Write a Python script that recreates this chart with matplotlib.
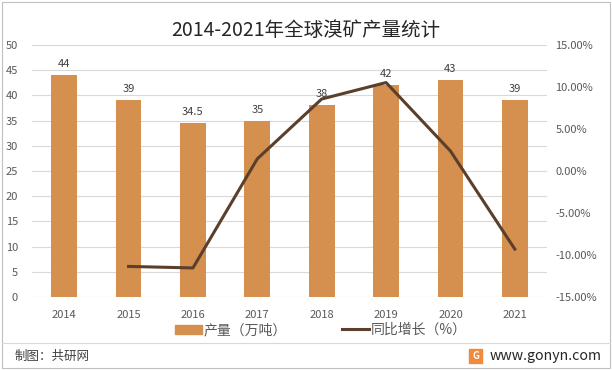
import matplotlib.pyplot as plt
import numpy as np
from matplotlib.patches import Rectangle
from matplotlib.lines import Line2D

plt.rcParams['font.family'] = ['Noto Sans CJK SC', 'DejaVu Sans']

years = ['2014', '2015', '2016', '2017', '2018', '2019', '2020', '2021']
output = [44, 39, 34.5, 35, 38, 42, 43, 39]
growth_years = ['2015', '2016', '2017', '2018', '2019', '2020', '2021']
growth = [-11.36, -11.54, 1.45, 8.57, 10.53, 2.38, -9.30]
bar_labels = ['44', '39', '34.5', '35', '38', '42', '43', '39']

bar_color = '#D58F4F'
line_color = '#5B3F2B'
txt = '#595959'

fig = plt.figure(figsize=(6.12, 3.70), dpi=100)
ax = fig.add_axes([32/612, 1-297/370, 515/612, 252/370])

x = np.arange(len(years))
ax.bar(x, output, width=0.4, color=bar_color, zorder=2)
for xi, v, lab in zip(x, output, bar_labels):
    ax.text(xi, v + 1.2, lab, ha='center', va='bottom', fontsize=8, color='#404040')

ax.set_ylim(0, 50)
ax.set_yticks(np.arange(0, 51, 5))
ax.set_xlim(-0.5, len(years) - 0.5)
ax.set_xticks(x)
ax.set_xticklabels(years)
ax.grid(axis='y', color='#D9D9D9', linewidth=0.8, zorder=0)
for s in ax.spines.values():
    s.set_visible(False)
ax.tick_params(length=0, labelsize=8, colors=txt)
ax.tick_params(axis='y', pad=10)
ax.tick_params(axis='x', pad=9)

ax2 = ax.twinx()
gx = [years.index(y) for y in growth_years]
ax2.plot(gx, growth, color=line_color, linewidth=2.2, zorder=3)
ax2.set_ylim(-15, 15)
ax2.set_yticks(np.arange(-15, 16, 5))
ax2.set_yticklabels(['%.2f%%' % v for v in np.arange(-15, 16, 5)])
for s in ax2.spines.values():
    s.set_visible(False)
ax2.tick_params(length=0, labelsize=8, colors=txt, pad=6)

fig.text(0.5, 1-30/370, '2014-2021年全球溴矿产量统计', ha='center', va='center',
         fontsize=14, color='#262626')

handles = [Rectangle((0, 0), 1, 1, color=bar_color),
           Line2D([0], [0], color=line_color, linewidth=2.2)]
fig.legend(handles, ['产量（万吨）', '同比增长（%）'], loc='center',
           bbox_to_anchor=(321/612, 1-330/370), ncol=2, frameon=False,
           fontsize=10, handlelength=1.9, handleheight=0.6, handletextpad=0.15,
           columnspacing=4.0, labelcolor=txt)

# frame and footer
fig.add_artist(Rectangle((2/612, 2/370), 608/612, 366/370, transform=fig.transFigure,
                         fill=False, edgecolor='#BFBFBF', linewidth=0.8))
fig.add_artist(Line2D([2/612, 610/612], [1-343/370, 1-343/370], transform=fig.transFigure,
                      color='#D9D9D9', linewidth=0.8))
fig.text(15/612, 1-356/370, '制图：共研网', ha='left', va='center', fontsize=9, color='#404040')
fig.add_artist(Rectangle((469/612, 1-363/370), 13/612, 14/370, transform=fig.transFigure,
                         color='#F08A3C'))
fig.text(475.5/612, 1-356/370, 'G', ha='center', va='center', fontsize=7,
         color='white', fontweight='bold')
fig.text(602/612, 1-356/370, 'www.gonyn.com', ha='right', va='center', fontsize=10.2, color='#262626')

plt.savefig('out.png', dpi=100)
